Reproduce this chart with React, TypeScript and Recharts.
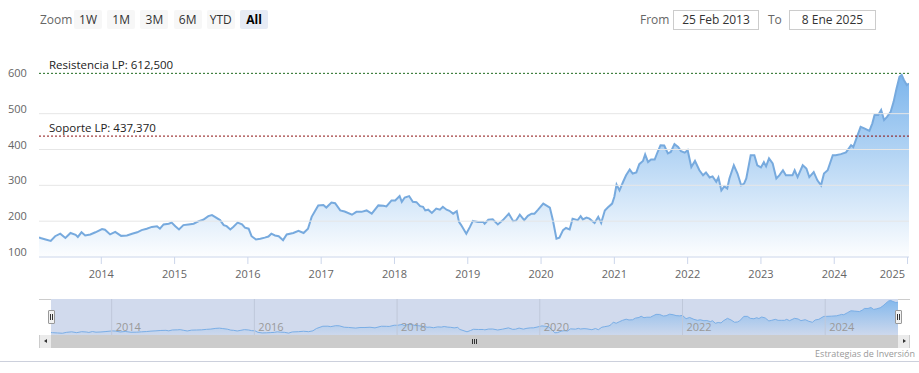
import {
  ComposedChart, Area, XAxis, YAxis, ReferenceLine,
} from "recharts";

const FONT = "'Open Sans', 'DejaVu Sans', sans-serif";

// year fraction of each reading, and the closing price
const times = [
  2013.15, 2013.17, 2013.24, 2013.31, 2013.37, 2013.44, 2013.51, 2013.58, 2013.65, 2013.68,
  2013.73, 2013.78, 2013.85, 2013.92, 2014.01, 2014.05, 2014.12, 2014.19, 2014.27, 2014.35,
  2014.42, 2014.49, 2014.55, 2014.62, 2014.69, 2014.76, 2014.80, 2014.85, 2014.92, 2014.96,
  2015.01, 2015.06, 2015.12, 2015.19, 2015.26, 2015.33, 2015.39, 2015.46, 2015.51, 2015.55,
  2015.62, 2015.67, 2015.71, 2015.76, 2015.80, 2015.86, 2015.92, 2015.96, 2016.01, 2016.05,
  2016.11, 2016.17, 2016.23, 2016.28, 2016.32, 2016.37, 2016.42, 2016.48, 2016.53, 2016.62,
  2016.69, 2016.76, 2016.82, 2016.87, 2016.92, 2016.96, 2017.03, 2017.07, 2017.14, 2017.19,
  2017.26, 2017.32, 2017.42, 2017.48, 2017.55, 2017.62, 2017.69, 2017.78, 2017.85, 2017.89,
  2017.96, 2018.01, 2018.07, 2018.10, 2018.14, 2018.20, 2018.25, 2018.30, 2018.35, 2018.39,
  2018.42, 2018.46, 2018.51, 2018.57, 2018.62, 2018.66, 2018.71, 2018.75, 2018.80, 2018.85,
  2018.88, 2018.91, 2018.98, 2019.03, 2019.07, 2019.14, 2019.21, 2019.23, 2019.28, 2019.34,
  2019.41, 2019.48, 2019.56, 2019.62, 2019.66, 2019.71, 2019.77, 2019.82, 2019.87, 2019.91,
  2019.96, 2020.03, 2020.07, 2020.12, 2020.16, 2020.21, 2020.25, 2020.30, 2020.34, 2020.39,
  2020.43, 2020.50, 2020.54, 2020.57, 2020.62, 2020.66, 2020.73, 2020.78, 2020.82, 2020.87,
  2020.91, 2020.97, 2021.00, 2021.03, 2021.07, 2021.12, 2021.16, 2021.21, 2021.25, 2021.30,
  2021.34, 2021.39, 2021.42, 2021.46, 2021.50, 2021.55, 2021.59, 2021.63, 2021.68, 2021.73,
  2021.77, 2021.82, 2021.87, 2021.91, 2021.96, 2022.00, 2022.05, 2022.10, 2022.16, 2022.21,
  2022.25, 2022.30, 2022.34, 2022.39, 2022.42, 2022.46, 2022.50, 2022.54, 2022.57, 2022.63,
  2022.68, 2022.73, 2022.77, 2022.80, 2022.86, 2022.91, 2022.95, 2023.00, 2023.04, 2023.07,
  2023.11, 2023.16, 2023.21, 2023.25, 2023.30, 2023.34, 2023.39, 2023.43, 2023.46, 2023.50,
  2023.57, 2023.62, 2023.66, 2023.72, 2023.77, 2023.82, 2023.86, 2023.91, 2023.98, 2024.02,
  2024.09, 2024.16, 2024.20, 2024.23, 2024.26, 2024.31, 2024.36, 2024.41, 2024.48, 2024.52,
  2024.55, 2024.60, 2024.64, 2024.68, 2024.72, 2024.77, 2024.81, 2024.85, 2024.89, 2024.92,
  2024.95, 2024.99, 2025.02,
];

const prices = [
  155, 153, 149, 145, 158, 165, 153, 167, 162, 156,
  169, 160, 163, 169, 178, 176, 163, 170, 159, 160,
  165, 169, 175, 179, 184, 186, 179, 191, 193, 196,
  186, 177, 189, 191, 193, 200, 204, 214, 217, 212,
  203, 189, 186, 177, 184, 196, 191, 182, 179, 158,
  149, 151, 154, 157, 165, 160, 158, 147, 163, 167,
  173, 167, 179, 212, 230, 244, 245, 238, 252, 250,
  230, 227, 218, 226, 226, 230, 221, 244, 243, 241,
  258, 258, 270, 254, 266, 270, 254, 253, 242, 240,
  230, 232, 223, 235, 232, 240, 232, 229, 221, 228,
  198, 189, 165, 184, 201, 198, 198, 193, 204, 205,
  191, 203, 221, 200, 202, 218, 203, 215, 221, 221,
  232, 249, 244, 238, 204, 151, 154, 175, 181, 177,
  207, 203, 214, 205, 210, 207, 195, 212, 195, 230,
  238, 249, 268, 302, 286, 310, 328, 344, 333, 336,
  359, 368, 386, 365, 372, 372, 393, 412, 411, 389,
  393, 415, 407, 395, 391, 398, 351, 368, 342, 328,
  336, 322, 325, 310, 322, 286, 297, 291, 319, 356,
  333, 300, 305, 319, 384, 384, 356, 350, 365, 353,
  375, 361, 319, 328, 342, 328, 328, 328, 342, 323,
  356, 347, 323, 337, 314, 300, 333, 342, 384, 384,
  387, 392, 403, 412, 407, 435, 463, 459, 452, 473,
  496, 496, 510, 482, 491, 505, 533, 570, 603, 608,
  594, 580, 584,
];

const yearTicks = [2014, 2015, 2016, 2017, 2018, 2019, 2020, 2021, 2022, 2023, 2024, 2025];
const navYears = [2014, 2016, 2018, 2020, 2022, 2024];
const priceTicks = [100, 200, 300, 400, 500, 600];
const gridValues = [200, 300, 400, 500];
const zoomButtons = ["1W", "1M", "3M", "6M", "YTD", "All"];

const RESISTANCE = 612.5;
const SUPPORT = 437.37;

const data = times.map((t, i) => ({ t, v: prices[i] }));

const YTick = (props: any) => (
  <text x={8} y={props.y - 1} fill="#666" fontSize={11} fontFamily={FONT}>
    {props.payload.value}
  </text>
);

// last label is pushed inside the plot, like highcharts does
const XTick = (props: any) => {
  const last = props.payload.value === yearTicks[yearTicks.length - 1];
  return (
    <text x={last ? props.x + 2 : props.x} y={props.y + 12} fill="#666" fontSize={11}
      fontFamily={FONT} textAnchor={last ? "end" : "middle"}>
      {props.payload.value}
    </text>
  );
};

const levelLabel = (text: string) => (p: any) => (
  <text x={p.viewBox.x + 10} y={p.viewBox.y - 4} fill="#222" fontSize={11.5} fontFamily={FONT}>
    {text}
  </text>
);

const navLabel = (text: string) => (p: any) => (
  <text x={p.viewBox.x + 4} y={32} fill="#999" fontSize={11} fontFamily={FONT}>
    {text}
  </text>
);

export default function App() {
  return (
    <div style={{ position: "absolute", left: 0, top: 0, width: 919, height: 373, background: "#fff", fontFamily: FONT, overflow: "hidden" }}>
      {/* range selector */}
      <div style={{ position: "absolute", left: 40, top: 10, height: 19, lineHeight: "19px", fontSize: 12, color: "#666" }}>Zoom</div>
      {zoomButtons.map((b, i) => (
        <div key={b} style={{
          position: "absolute", left: 74 + i * 33.2, top: 10, width: 28, height: 19, lineHeight: "19px",
          textAlign: "center", fontSize: 12, borderRadius: 2,
          background: b === "All" ? "#e6ebf5" : "#f7f7f7",
          color: b === "All" ? "#000" : "#333", fontWeight: b === "All" ? 700 : 400,
        }}>{b}</div>
      ))}
      <div style={{ position: "absolute", left: 640, top: 10, height: 20, lineHeight: "20px", fontSize: 12, color: "#666" }}>From</div>
      <div style={{ position: "absolute", left: 673, top: 10, width: 84, height: 18, lineHeight: "18px", border: "1px solid #ccc", textAlign: "center", fontSize: 12, color: "#333" }}>25 Feb 2013</div>
      <div style={{ position: "absolute", left: 768, top: 10, height: 20, lineHeight: "20px", fontSize: 12, color: "#666" }}>To</div>
      <div style={{ position: "absolute", left: 789, top: 10, width: 85, height: 18, lineHeight: "18px", border: "1px solid #ccc", textAlign: "center", fontSize: 12, color: "#333" }}>8 Ene 2025</div>

      {/* main chart */}
      <div style={{ position: "absolute", left: 0, top: 0 }}>
        <ComposedChart width={919} height={290} data={data} margin={{ top: 42, right: 10, bottom: 0, left: 0 }}>
          <defs>
            <linearGradient id="mainFill" x1="0" y1="0" x2="0" y2="1">
              <stop offset="0%" stopColor="#7cb5ec" stopOpacity={1} />
              <stop offset="100%" stopColor="#7cb5ec" stopOpacity={0.02} />
            </linearGradient>
          </defs>
          {gridValues.map((g) => (
            <ReferenceLine key={g} y={g} stroke="#e6e6e6" strokeWidth={1} />
          ))}
          <XAxis dataKey="t" type="number" domain={[2013.15, 2025.02]} ticks={yearTicks}
            allowDataOverflow height={33} stroke="#ccd6eb" tickSize={7} tick={<XTick />} />
          <YAxis type="number" domain={[100, 700]} ticks={priceTicks} width={39}
            axisLine={false} tickLine={false} tick={<YTick />} allowDataOverflow />
          <Area dataKey="v" type="linear" stroke="#77aade" strokeWidth={2} fill="url(#mainFill)"
            fillOpacity={1} isAnimationActive={false} dot={false} activeDot={false} />
          <ReferenceLine y={RESISTANCE} stroke="#1f6b1f" strokeDasharray="2 2" strokeWidth={1}
            label={levelLabel("Resistencia LP: 612,500")} />
          <ReferenceLine y={SUPPORT} stroke="#8b1010" strokeDasharray="2 2" strokeWidth={1}
            label={levelLabel("Soporte LP: 437,370")} />
        </ComposedChart>
      </div>

      {/* navigator */}
      <div style={{ position: "absolute", left: 39, top: 299, width: 12, height: 0, borderTop: "1px solid #ccc" }} />
      <div style={{ position: "absolute", left: 898, top: 299, width: 12, height: 0, borderTop: "1px solid #ccc" }} />
      <div style={{ position: "absolute", left: 51, top: 299, width: 847, height: 36, background: "rgba(102,133,194,0.3)" }} />
      <div style={{ position: "absolute", left: 0, top: 299 }}>
        <ComposedChart width={919} height={36} data={data} margin={{ top: 0, right: 21, bottom: 0, left: 51 }}>
          <defs>
            <linearGradient id="navFill" x1="0" y1="0" x2="0" y2="1">
              <stop offset="0%" stopColor="#7cb5ec" stopOpacity={0.9} />
              <stop offset="100%" stopColor="#7cb5ec" stopOpacity={0.05} />
            </linearGradient>
          </defs>
          <XAxis dataKey="t" type="number" domain={[2013.15, 2025.02]} hide allowDataOverflow />
          <YAxis type="number" domain={[120, 630]} hide allowDataOverflow />
          {navYears.map((y) => (
            <ReferenceLine key={y} x={y} stroke="#bfc8da" strokeWidth={1} />
          ))}
          <Area dataKey="v" type="linear" stroke="#7aaee6" strokeWidth={1} fill="url(#navFill)"
            fillOpacity={1} isAnimationActive={false} dot={false} activeDot={false} />
          {navYears.map((y) => (
            <ReferenceLine key={"l" + y} x={y} stroke="none" label={navLabel(String(y))} />
          ))}
        </ComposedChart>
      </div>

      {/* handles */}
      {[48, 895].map((x) => (
        <div key={x} style={{ position: "absolute", left: x, top: 310, width: 5, height: 12, background: "#f2f2f2", border: "1px solid #999", borderRadius: 1 }}>
          <div style={{ position: "absolute", left: 1, top: 3, width: 1, height: 6, background: "#333" }} />
          <div style={{ position: "absolute", left: 3, top: 3, width: 1, height: 6, background: "#333" }} />
        </div>
      ))}

      {/* scrollbar */}
      <div style={{ position: "absolute", left: 39, top: 335, width: 12, height: 13, background: "#ebebeb", borderLeft: "1px solid #ccc", boxSizing: "border-box" }}>
        <div style={{ position: "absolute", left: 4, top: 4, width: 0, height: 0, borderTop: "2.5px solid transparent", borderBottom: "2.5px solid transparent", borderRight: "3px solid #333" }} />
      </div>
      <div style={{ position: "absolute", left: 51, top: 335, width: 847, height: 13, background: "#cccccc" }}>
        <div style={{ position: "absolute", left: 421, top: 4, width: 1, height: 5, background: "#333" }} />
        <div style={{ position: "absolute", left: 423, top: 4, width: 1, height: 5, background: "#333" }} />
        <div style={{ position: "absolute", left: 425, top: 4, width: 1, height: 5, background: "#333" }} />
      </div>
      <div style={{ position: "absolute", left: 898, top: 335, width: 12, height: 13, background: "#ebebeb", borderRight: "1px solid #ccc", boxSizing: "border-box" }}>
        <div style={{ position: "absolute", left: 5, top: 4, width: 0, height: 0, borderTop: "2.5px solid transparent", borderBottom: "2.5px solid transparent", borderLeft: "3px solid #333" }} />
      </div>

      {/* credits and bottom rule */}
      <div style={{ position: "absolute", right: 4, top: 348, fontSize: 9, color: "#999", lineHeight: "12px" }}>Estrategias de Inversión</div>
      <div style={{ position: "absolute", left: 0, top: 361, width: 919, height: 0, borderTop: "1px solid #ccd0dc" }} />
    </div>
  );
}
